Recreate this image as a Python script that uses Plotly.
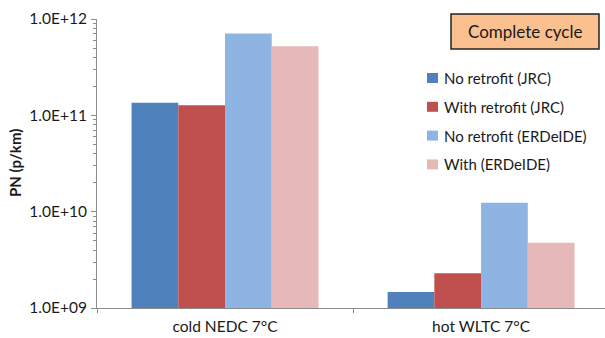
import plotly.graph_objects as go

categories = ["cold NEDC 7°C", "hot WLTC 7°C"]
series_names = ["No retrofit (JRC)", "With retrofit (JRC)",
                "No retrofit (ERDeIDE)", "With (ERDeIDE)"]
no_retrofit_jrc = [1.35e11, 1.47e9]
with_retrofit_jrc = [1.27e11, 2.29e9]
no_retrofit_erdeide = [7.05e11, 1.24e10]
with_erdeide = [5.2e11, 4.75e9]
y_tick_vals = [1e9, 1e10, 1e11, 1e12]
y_tick_text = ["1.0E+09", "1.0E+10", "1.0E+11", "1.0E+12"]

series_values = [no_retrofit_jrc, with_retrofit_jrc, no_retrofit_erdeide, with_erdeide]
colors = ["#4F81BD", "#C0504D", "#8EB4E3", "#E6B9B8"]

FONT = "Lato"
TEXT = "#1a1a1a"
AXIS_GRAY = "#8c8c8c"

W, H = 605, 338
ML, MR, MT, MB = 97, 0, 19, 30
PW, PH = W - ML - MR, H - MT - MB


def px_x(px):
    return (px - ML) / PW


def px_y(py):
    return (H - MB - py) / PH


fig = go.Figure()
for name, vals, col in zip(series_names, series_values, colors):
    fig.add_trace(go.Bar(
        x=categories, y=vals, name=name,
        marker=dict(color=col, line=dict(width=0)),
        showlegend=False,
    ))

minor_vals = [m * 10 ** e for e in range(9, 12) for m in range(2, 10)]

fig.update_layout(
    width=W, height=H,
    margin=dict(l=ML, r=MR, t=MT, b=MB),
    paper_bgcolor="white", plot_bgcolor="white",
    barmode="group", bargap=0.27, bargroupgap=0,
    font=dict(family=FONT, size=15, color=TEXT),
    xaxis=dict(
        type="category", range=[-0.5, 1.484],
        showline=True, linecolor=AXIS_GRAY, linewidth=1,
        ticks="outside", tickson="boundaries", ticklen=4, tickcolor=AXIS_GRAY,
        ticklabelstandoff=4,
        tickfont=dict(size=15.5, family=FONT, color=TEXT),
        showgrid=False, zeroline=False,
    ),
    yaxis=dict(
        type="log", range=[9, 12],
        tickvals=y_tick_vals, ticktext=y_tick_text,
        showline=True, linecolor=AXIS_GRAY, linewidth=1,
        ticks="outside", ticklen=5, tickcolor=AXIS_GRAY,
        ticklabelstandoff=1,
        minor=dict(tickvals=minor_vals, ticks="outside", ticklen=3, tickcolor=AXIS_GRAY),
        tickfont=dict(size=15.5, family=FONT, color=TEXT),
        showgrid=False, zeroline=False,
    ),
    showlegend=False,
)

# y-axis title
fig.add_annotation(
    xref="paper", yref="paper", x=px_x(15), y=px_y(163),
    text="<b>PN (p/km)</b>", textangle=-90, showarrow=False,
    xanchor="center", yanchor="middle",
    font=dict(size=15, family=FONT, color=TEXT),
)

# legend: colour swatch + label per series
for i, (name, col) in enumerate(zip(series_names, colors)):
    cy = 78 + 28.8 * i
    fig.add_shape(
        type="rect", xref="paper", yref="paper",
        x0=px_x(427), x1=px_x(438), y0=px_y(cy + 5), y1=px_y(cy - 5),
        fillcolor=col, line=dict(width=0),
    )
    fig.add_annotation(
        xref="paper", yref="paper", x=px_x(442), y=px_y(cy),
        xanchor="left", yanchor="middle", text=name, showarrow=False,
        font=dict(size=15, family=FONT, color=TEXT),
    )

# "Complete cycle" label box
fig.add_shape(
    type="rect", xref="paper", yref="paper",
    x0=px_x(451), x1=px_x(599), y0=px_y(49), y1=px_y(14),
    fillcolor="#FAC090", line=dict(color="#222222", width=1.5),
)
fig.add_annotation(
    xref="paper", yref="paper", x=px_x(525), y=px_y(31.5),
    xanchor="center", yanchor="middle", text="Complete cycle", showarrow=False,
    font=dict(size=17, family=FONT, color=TEXT),
)

fig.write_html("out.html")
